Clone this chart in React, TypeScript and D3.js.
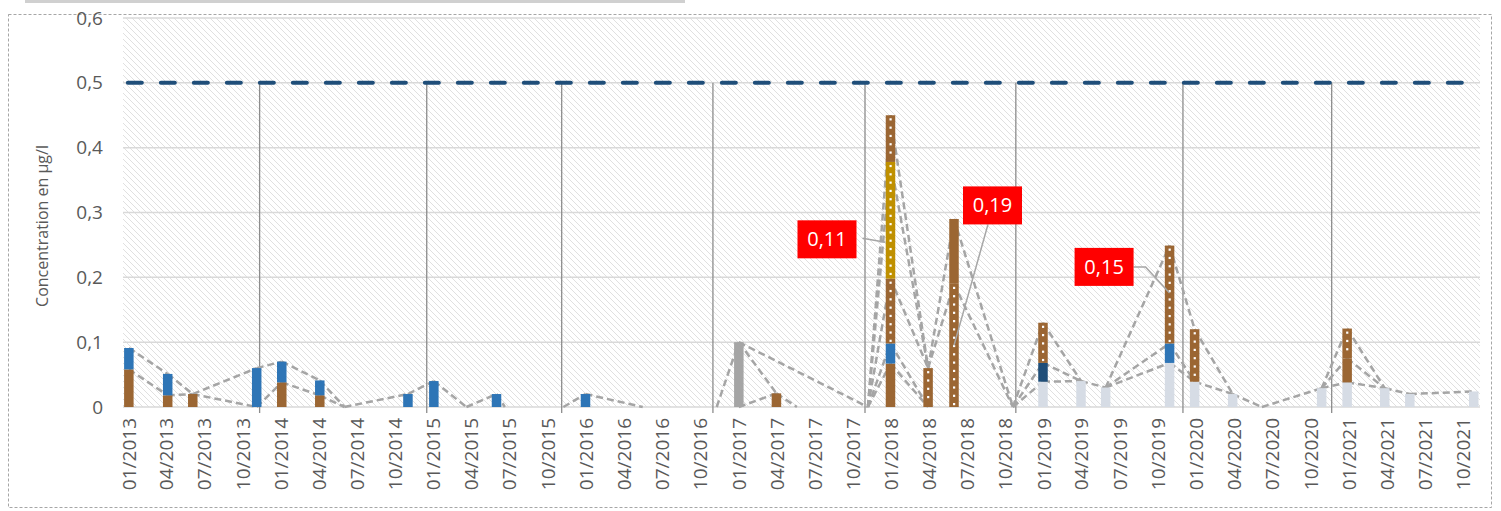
import React, { useEffect } from "react";
import * as d3 from "d3";

// ---------- DATA ----------
const axisRange = ["2012-12-18", "2021-11-09"];

const sampleDates = [
  "2013-01-01", "2013-04-04", "2013-06-03", "2013-11-03", "2014-01-02", "2014-04-03",
  "2014-06-01", "2014-10-31", "2015-01-01", "2015-03-20", "2015-05-31", "2015-06-20",
  "2015-11-07", "2015-12-30", "2016-05-15", "2016-11-08", "2016-12-31", "2017-03-31",
  "2017-05-19", "2017-11-05", "2017-12-29", "2018-03-29", "2018-05-30", "2018-10-18",
  "2018-12-29", "2019-03-30", "2019-05-28", "2019-10-28", "2019-12-27", "2020-03-27",
  "2020-06-05", "2020-10-26", "2020-12-26", "2021-03-26", "2021-05-25", "2021-10-25",
];

// one value per sample date, stacked bottom -> top in this order
const light = [0,0,0,0,0,0, 0,0,0,0,0,0, 0,0,0,0,0,0, 0,0,0,0,0,0, 0.039,0.04,0.03,0.068,0.039,0.02, 0,0.029,0.038,0.029,0.02,0.024];
const brownA = [0.058,0.018,0.02,0,0.038,0.018, 0,0,0,0,0,0, 0,0,0,0,0,0.021, 0,0,0.067,0,0,0, 0,0,0,0,0,0, 0,0,0.037,0,0,0];
const blue = [0.033,0.033,0,0.06,0.032,0.023, 0,0.02,0.04,0,0.02,0, 0,0.02,0,0,0,0, 0,0,0.031,0,0,0, 0,0,0,0.03,0,0, 0,0,0,0,0,0];
const navy = [0,0,0,0,0,0, 0,0,0,0,0,0, 0,0,0,0,0,0, 0,0,0,0,0,0, 0.029,0,0,0,0,0, 0,0,0,0,0,0];
const dotA = [0,0,0,0,0,0, 0,0,0,0,0,0, 0,0,0,0,0,0, 0,0,0.10,0.06,0.19,0, 0.062,0,0,0.151,0.081,0, 0,0,0.046,0,0,0];
const gold = [0,0,0,0,0,0, 0,0,0,0,0,0, 0,0,0,0,0,0, 0,0,0.18,0,0,0, 0,0,0,0,0,0, 0,0,0,0,0,0];
const dotB = [0,0,0,0,0,0, 0,0,0,0,0,0, 0,0,0,0,0,0, 0,0,0.072,0,0,0, 0,0,0,0,0,0, 0,0,0,0,0,0];
const brownB = [0,0,0,0,0,0, 0,0,0,0,0,0, 0,0,0,0,0,0, 0,0,0,0,0.10,0, 0,0,0,0,0,0, 0,0,0,0,0,0];
const grey = [0,0,0,0,0,0, 0,0,0,0,0,0, 0,0,0,0,0.1,0, 0,0,0,0,0,0, 0,0,0,0,0,0, 0,0,0,0,0,0];

const seriesNames = ["light", "brownA", "blue", "navy", "dotA", "gold", "dotB", "brownB", "grey"];
const seriesValues = [light, brownA, blue, navy, dotA, gold, dotB, brownB, grey];

// extra dashed connection (series connected across gaps)
const extraLineDates = ["2016-12-31", "2017-11-05"];
const extraLineValues = [0.1, 0];

const limitValue = 0.5;
const dropLineDates = [
  "2013-11-10", "2014-12-15", "2015-11-03", "2016-10-30",
  "2017-10-29", "2018-10-25", "2019-11-29", "2020-11-19",
];

const yTicks = [0, 0.1, 0.2, 0.3, 0.4, 0.5, 0.6];
const tickStart = "2013-01-01";
const tickEnd = "2021-10-01";

const labelTexts = ["0,11", "0,19", "0,15"];
const labelDates = ["2017-12-29", "2018-05-30", "2019-10-28"];
const labelAnchors = [0.254, 0.095, 0.176];

const yTitle = "Concentration en µg/l";

// ---------- STYLE / LAYOUT ----------
const W = 1500, H = 510;
const PL = 123, PR = 1480, PT = 18, PB = 407;
const BAR_W = 9.5;
const FONT = "'Open Sans', 'Noto Sans', sans-serif";
const TXT = "#595959";
const COLORS: Record<string, string> = {
  light: "#D6DCE5", brownA: "#9B6633", blue: "#2E75B6", navy: "#1F4E79",
  dotA: "#9B6633", gold: "#BF9000", dotB: "#9B6633", brownB: "#9B6633", grey: "#A5A5A5",
};
const DOTTED = new Set(["dotA", "gold", "dotB"]);
const LABEL_LAYOUT = [
  { bx: -93, by: -22, w: 59, h: 38, leader: [[-5, 0], [-28, -4]] },
  { bx: 9, by: -159, w: 59, h: 38, leader: [[0, 0], [34, -121]] },
  { bx: -95, by: -45, w: 59, h: 38, leader: [[0, 0], [-24, -26], [-36, -26]] },
];

const parse = d3.timeParse("%Y-%m-%d");

export default function App() {
  useEffect(() => {
    document.body.style.margin = "0";
    document.body.style.overflow = "hidden";
  }, []);

  const x = d3.scaleTime()
    .domain([parse(axisRange[0])!, parse(axisRange[1])!])
    .range([PL, PR]);
  const y = d3.scaleLinear().domain([0, 0.6]).range([PB, PT]);

  const dates = sampleDates.map((d) => parse(d)!);
  const stacked = dates.map((_, i) => {
    let c = 0;
    return seriesValues.map((s) => {
      const y0 = c;
      c += s[i];
      return [y0, c];
    });
  });

  const xTicks = d3.timeMonth.range(parse(tickStart)!, d3.timeDay.offset(parse(tickEnd)!, 1), 3);
  const fmtX = d3.timeFormat("%m/%Y");
  const fmtY = (v: number) => (v === 0 ? "0" : v.toFixed(1).replace(".", ","));

  // dashed connecting lines: one per stack level, split into unique segments
  const segs: { x1: number; y1: number; x2: number; y2: number }[] = [];
  const seen = new Set<string>();
  for (let i = 0; i < dates.length - 1; i++) {
    seriesNames.forEach((_, k) => {
      const a = stacked[i][k][1], b = stacked[i + 1][k][1];
      if (a === 0 && b === 0) return;
      const key = `${i}:${a.toFixed(4)}:${b.toFixed(4)}`;
      if (seen.has(key)) return;
      seen.add(key);
      segs.push({ x1: x(dates[i]), y1: y(a), x2: x(dates[i + 1]), y2: y(b) });
    });
  }
  for (let i = 0; i < extraLineDates.length - 1; i++) {
    segs.push({
      x1: x(parse(extraLineDates[i])!), y1: y(extraLineValues[i]),
      x2: x(parse(extraLineDates[i + 1])!), y2: y(extraLineValues[i + 1]),
    });
  }

  const bars: React.ReactNode[] = [];
  dates.forEach((d, i) => {
    const cx = x(d);
    seriesNames.forEach((name, k) => {
      const v = seriesValues[k][i];
      if (v <= 0) return;
      const [a, b] = stacked[i][k];
      const yTop = y(b), yBot = y(a);
      bars.push(
        <rect key={`b${i}-${k}`} x={cx - BAR_W / 2} y={yTop} width={BAR_W} height={yBot - yTop} fill={COLORS[name]} />
      );
      if (DOTTED.has(name)) {
        for (let yy = yTop + 4; yy < yBot - 2; yy += 8.3) {
          bars.push(<rect key={`d${i}-${k}-${yy}`} x={cx - 1} y={yy - 1} width={2.2} height={2.2} fill="#fff" />);
        }
      }
    });
  });

  return (
    <svg width={W} height={H} style={{ position: "absolute", left: 0, top: 0, display: "block" }} fontFamily={FONT}>
      <defs>
        <pattern id="hatch" width={6} height={6} patternUnits="userSpaceOnUse">
          <rect width={6} height={6} fill="#fff" />
          <path d="M-1,-1 L7,7 M-1,5 L1,7 M5,-1 L7,1" stroke="#e0e0e0" strokeWidth={1} />
        </pattern>
      </defs>
      <rect x={0} y={0} width={W} height={H} fill="#fff" />
      <rect x={25} y={0} width={660} height={3} fill="#d0d0d0" />
      <rect x={8.5} y={14.5} width={1483} height={493} fill="none" stroke="#a6a6a6" strokeWidth={1} strokeDasharray="3,2" />

      <rect x={PL} y={PT} width={PR - PL} height={PB - PT} fill="url(#hatch)" />

      {yTicks.map((t) => (
        <line key={`g${t}`} x1={PL} x2={PR} y1={y(t)} y2={y(t)} stroke="#d9d9d9" strokeWidth={1.5} />
      ))}

      {dropLineDates.map((d) => {
        const xx = x(parse(d)!);
        return <line key={`dl${d}`} x1={xx} x2={xx} y1={y(limitValue)} y2={PB + 6} stroke="#8c8c8c" strokeWidth={1.3} />;
      })}

      <line x1={x(parse(tickStart)!) - 1} x2={PR} y1={y(limitValue)} y2={y(limitValue)}
        stroke="#1F4E79" strokeWidth={4} strokeDasharray="14,19" strokeLinecap="round" />

      {segs.map((s, j) => (
        <line key={`s${j}`} x1={s.x1} y1={s.y1} x2={s.x2} y2={s.y2}
          stroke="#A5A5A5" strokeWidth={2.5} strokeDasharray="7,4" />
      ))}

      {bars}

      {yTicks.map((t) => (
        <text key={`yt${t}`} x={103} y={y(t)} dy="0.35em" textAnchor="end" fontSize={19} fill={TXT}>
          {fmtY(t)}
        </text>
      ))}

      {xTicks.map((t) => (
        <text key={`xt${+t}`} transform={`translate(${x(t)},${PB + 11}) rotate(-90)`} dy="0.35em"
          textAnchor="end" fontSize={19} fill={TXT}>
          {fmtX(t)}
        </text>
      ))}

      <text transform={`translate(42,226) rotate(-90)`} dy="0.35em" textAnchor="middle" fontSize={16} fill={TXT}>
        {yTitle}
      </text>

      {labelTexts.map((txt, i) => {
        const ax = x(parse(labelDates[i])!);
        const ay = y(labelAnchors[i]);
        const L = LABEL_LAYOUT[i];
        const pts = L.leader.map(([dx, dy]) => `${ax + dx},${ay + dy}`).join(" ");
        return (
          <g key={`lab${i}`}>
            <polyline points={pts} fill="none" stroke="#a6a6a6" strokeWidth={1.5} />
            <rect x={ax + L.bx} y={ay + L.by} width={L.w} height={L.h} fill="#FF0000" />
            <text x={ax + L.bx + L.w / 2} y={ay + L.by + L.h / 2} dy="0.35em" textAnchor="middle" fontSize={20} fill="#fff">
              {txt}
            </text>
          </g>
        );
      })}
    </svg>
  );
}
